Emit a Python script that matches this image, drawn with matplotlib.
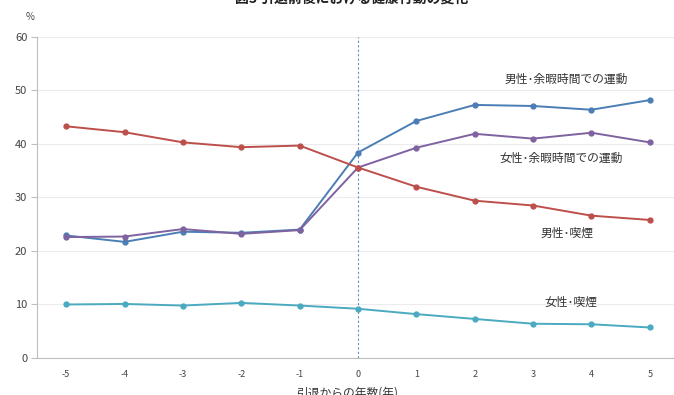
import matplotlib.pyplot as plt

# years relative to retirement
years = [-5, -4, -3, -2, -1, 0, 1, 2, 3, 4, 5]
tick_labels = ["-5", "-4", "-3", "-2", "-1", "0", "1", "2", "3", "4", "5"]

# share of people (%)
male_exercise = [22.9, 21.7, 23.6, 23.4, 24.0, 38.4, 44.3, 47.3, 47.1, 46.4, 48.2]
female_exercise = [22.6, 22.7, 24.1, 23.2, 23.9, 35.6, 39.3, 41.9, 41.0, 42.1, 40.3]
male_smoking = [43.3, 42.2, 40.3, 39.4, 39.7, 35.6, 32.0, 29.4, 28.5, 26.6, 25.8]
female_smoking = [10.0, 10.1, 9.8, 10.3, 9.8, 9.2, 8.2, 7.3, 6.4, 6.3, 5.7]

plt.rcParams["font.family"] = ["Noto Sans CJK JP", "DejaVu Sans"]

fig = plt.figure(figsize=(6.74, 3.95), dpi=100)
ax = fig.add_axes([0.0549, 0.0937, 0.9525, 0.8127])

series = [
    (male_exercise, "#4a7eb5", "男性･余暇時間での運動", 3.56, 52.0),
    (female_exercise, "#7f62a0", "女性･余暇時間での運動", 3.48, 37.4),
    (male_smoking, "#bd4f4b", "男性･喫煙", 3.58, 23.4),
    (female_smoking, "#4aaabf", "女性･喫煙", 3.65, 10.5),
]
for vals, col, name, lx, ly in series:
    ax.plot(years, vals, color=col, lw=1.4, marker="o", ms=3.5, zorder=3)
    ax.text(lx, ly, name, ha="center", va="center", fontsize=8.5,
            color="#333333")

# retirement year marker
ax.axvline(0, color="#5b8fd0", lw=0.8, ls=(0, (2, 2)), zorder=2)

ax.set_xlim(-5.5, 5.5)
ax.set_ylim(0, 60)
ax.set_yticks(range(0, 61, 10))
ax.set_xticks(years)
ax.set_xticklabels(tick_labels)
ax.yaxis.grid(True, color="#ececec", lw=0.8, zorder=0)
ax.xaxis.grid(False)
for side in ["top", "right"]:
    ax.spines[side].set_visible(False)
ax.spines["left"].set_color("#bfbfbf")
ax.spines["bottom"].set_color("#bfbfbf")
ax.tick_params(axis="y", length=4, color="#bfbfbf", labelsize=8,
               labelcolor="#444444", pad=3)
ax.tick_params(axis="x", length=0, labelsize=6.5, labelcolor="#444444", pad=9)

fig.text(30 / 674, 1 - 17 / 395, "%", fontsize=7, color="#444444",
         ha="center", va="center")
fig.text(347 / 674, 1 - 393 / 395, "引退からの年数(年)", fontsize=8.5,
         color="#333333", ha="center", va="center")
fig.text(352 / 674, 1 - 2.5 / 395, "図3 引退前後における健康行動の変化",
         fontsize=10, color="#222222", ha="center", va="baseline",
         fontweight="bold")

fig.savefig("out.png", dpi=100)
